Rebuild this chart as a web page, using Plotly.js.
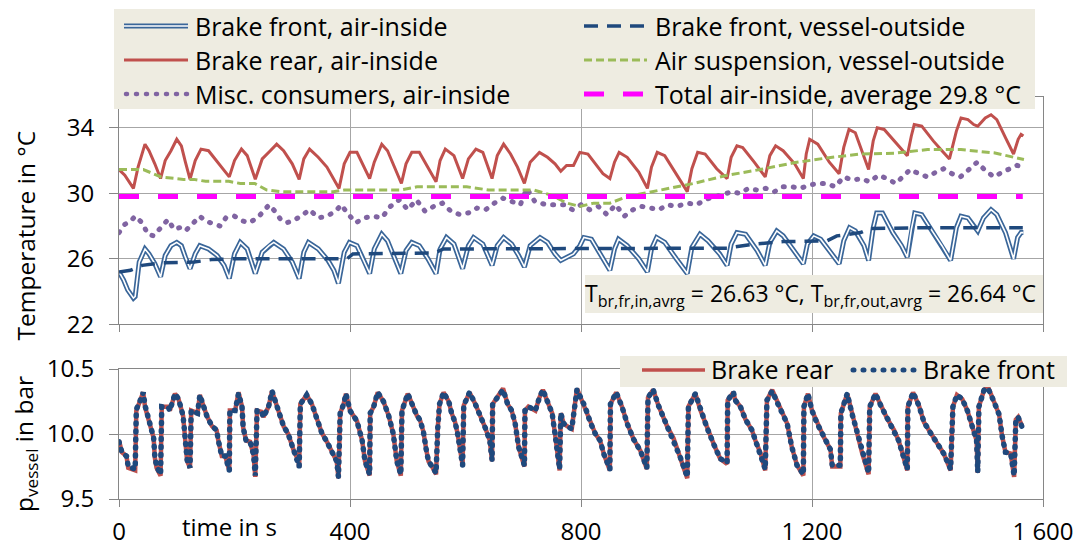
<!DOCTYPE html>
<html>
<head>
<meta charset="utf-8">
<script src="https://cdn.plot.ly/plotly-3.0.1.min.js"></script>
<style>
html,body{margin:0;padding:0;background:#fff;}
#chart{width:1078px;height:546px;}
</style>
</head>
<body>
<div id="chart"></div>
<script>
// ---------------- DATA ----------------
// x axis ticks
const xTickVals = [0, 400, 800, 1200, 1600];
const xTickText = ['0', '400', '800', '1 200', '1 600'];
const tempTickVals = [22, 26, 30, 34];
const presTickVals = [9.5, 10.0, 10.5];
const presTickText = ['9.5', '10.0', '10.5'];

// Brake rear, air-inside (°C)
const tR = [0,10,25,33,45,52,62,72, 80,90,100,108,115,123, 132,142,155,170,182,191, 200,212,222,236,
  248,262,273,285,300,312, 320,330,345,360,372,381, 390,400,412,424,434, 442,455,465,478,489,
  497,507,520,535,549, 556,565,580,595, 605,618,630,646, 655,666,678,690,702, 712,728,742,755,765,
  775,787,798,812,825,838,850, 858,866,880,900,915, 922,932,945,965,984, 992,1002,1015,1035,1053,
  1060,1070,1080,1100,1119, 1127,1137,1150,1170,1185, 1190,1196,1210,1230,1247, 1255,1264,1275,1290,1298,
  1306,1313,1325,1340,1355,1365, 1372,1377,1390,1410,1425,1438, 1450,1458,1470,1480,1487,
  1500,1510,1520,1535,1549, 1557,1562,1566];
const vR = [31.45,31.1,30.3,31.6,33.0,32.6,31.8,30.9, 32.0,32.6,33.3,32.9,31.9,30.85, 32.0,32.7,32.6,31.9,31.4,31.0, 32.0,32.7,32.3,30.85,
  32.1,32.6,33.0,32.6,31.8,30.85, 32.1,32.7,32.2,31.6,30.9,30.3, 31.8,32.5,32.5,31.6,30.9, 31.9,33.0,32.6,31.5,30.6,
  31.8,32.5,32.5,31.6,30.7, 32.0,32.7,32.3,30.9, 32.1,32.7,32.5,30.9, 32.3,33.0,32.4,31.6,30.6, 31.9,32.5,32.2,31.8,31.35,
  31.7,31.7,32.5,32.4,31.8,31.2,30.9, 31.9,32.5,32.2,31.3,30.3, 31.6,32.5,32.3,31.2,30.1, 31.5,32.5,32.4,31.5,30.9,
  32.2,32.9,32.8,31.9,31.0, 32.3,32.9,32.6,31.8,30.9, 32.4,33.3,33.0,31.9,31.2, 32.8,33.9,33.7,32.3,31.45,
  33.2,34.0,33.9,33.3,32.7,32.3, 33.5,34.2,34.1,33.2,32.6,32.1, 33.8,34.6,34.5,34.2,34.1,
  34.6,34.8,34.5,33.4,32.4, 33.3,33.6,33.5];

// Brake front, air-inside (°C)
const tBi = [0,8,15,25,28,35,45,52,62,72, 80,90,100,108,115,123, 132,140,155,170,182,191, 200,210,222,236,
  248,260,268,285,300,312, 320,328,345,362,372,380, 390,399,412,424,434, 442,455,465,478,488,
  497,507,520,535,549, 556,567,580,595, 605,614,630,646, 655,666,680,692,702, 712,729,742,755,765,
  775,787,798,805,818,835,850, 858,865,880,900,915, 922,931,945,965,984, 992,1006,1020,1040,1053,
  1060,1070,1085,1105,1119, 1127,1139,1150,1170,1185, 1192,1203,1215,1232,1247, 1255,1265,1275,1290,1298,
  1306,1312,1322,1340,1355,1365, 1372,1378,1390,1410,1425,1440, 1450,1458,1470,1480,1487,
  1497,1510,1520,1535,1549, 1556,1562,1566];
const vBi = [25.2,24.7,24.1,23.6,23.7,25.8,26.6,26.3,25.7,24.9, 26.2,26.8,27.0,26.8,26.1,25.4, 26.3,26.8,26.6,26.2,25.6,24.8, 26.3,27.0,26.6,25.1,
  26.4,26.8,27.0,26.6,25.8,24.8, 26.4,27.0,26.6,25.9,25.3,24.5, 26.4,27.0,26.8,25.9,25.1, 26.6,27.5,27.1,26.0,25.1,
  26.5,27.0,26.8,26.0,25.1, 26.6,27.3,26.9,25.4, 26.8,27.3,26.9,25.6, 26.8,27.3,26.9,26.2,25.5, 26.8,27.3,27.0,26.3,25.9,
  26.1,26.3,26.8,27.3,27.2,26.2,25.3, 26.6,27.2,26.8,26.0,25.2, 26.6,27.3,27.0,26.0,25.1, 26.7,27.5,27.1,26.3,25.6,
  26.9,27.6,27.5,26.5,25.6, 27.0,27.7,27.4,26.4,25.7, 26.9,27.4,27.2,26.4,25.7, 27.1,27.9,27.7,26.8,25.9,
  27.9,28.8,28.8,27.6,26.8,26.1, 27.8,28.8,28.7,27.6,26.8,25.9, 27.9,28.6,28.5,28.0,27.7,
  28.5,29.0,28.7,27.6,26.0, 27.3,27.6,27.6];

// Brake front, vessel-outside (°C)
const tBo = [0,20,40,75,130,160,200,395,405,545,562,800,1053,1100,1150,1226,1243,1284,1300,1400,1565];
const vBo = [25.2,25.3,25.6,25.75,25.8,25.95,26.0,26.0,26.3,26.35,26.6,26.65,26.65,26.9,27.05,27.1,27.4,27.6,27.85,27.9,27.9];

// Air suspension, vessel-outside (°C)
const tA = [0,42,73,112,130,150,190,210,235,256,279,371,390,487,516,602,640,718,747,776,798,
  822,850,880,909,937,995,1053,1110,1168,1226,1284,1342,1400,1458,1515,1567];
const vA = [31.45,31.45,31.0,30.85,30.85,30.73,30.73,30.6,30.6,30.2,30.1,30.1,30.2,30.2,30.4,30.4,30.2,30.2,29.9,29.4,29.2,
  29.4,29.4,29.8,30.0,30.2,30.6,31.1,31.45,31.86,32.16,32.4,32.45,32.67,32.67,32.47,32.06];

// Misc. consumers, air-inside (°C)
const tM = [0,10,20,28,40,50,60,75,85,95,105,115,130,140,150,160,175,185,200,215,225,240,250,260,270,280,290,300,
  315,330,345,360,375,385,395,410,425,440,455,470,485,500,515,530,545,560,575,590,605,620,635,650,665,680,695,706,
  720,740,755,770,785,800,815,830,845,860,875,890,905,920,935,950,965,985,1000,1015,1030,1045,1060,1075,1090,1105,
  1120,1135,1150,1165,1180,1195,1210,1225,1240,1255,1270,1285,1300,1315,1330,1345,1360,1370,1385,1400,1415,1428,
  1442,1457,1470,1486,1500,1515,1530,1545,1555,1565];
const vM = [27.6,28.1,28.3,28.6,28.2,27.5,27.4,28.0,28.4,27.8,27.9,27.7,28.2,28.6,28.3,28.2,28.0,28.5,28.6,28.3,28.2,28.5,28.9,29.3,28.9,28.4,28.2,28.3,
  28.6,29.0,28.5,28.6,28.9,29.3,28.8,28.2,28.5,28.6,28.5,29.2,29.6,29.0,29.6,28.9,29.2,29.4,28.9,28.7,28.8,29.1,29.0,29.4,29.7,29.5,29.3,30.3,
  29.5,29.3,29.3,29.3,29.0,29.3,29.0,29.2,28.7,29.3,28.6,29.0,29.2,29.1,29.0,29.3,29.2,29.4,29.3,29.6,29.8,29.9,30.1,30.0,30.3,30.2,
  30.3,30.1,30.4,30.4,30.3,30.5,30.6,30.6,30.4,31.0,30.8,30.9,30.7,31.1,30.9,30.6,31.1,31.45,31.2,31.0,31.3,31.5,
  31.2,31.0,31.4,31.9,31.4,31.0,31.3,31.5,31.7,31.6];

// Total air-inside, average 29.8 °C
const tTot = [0, 1565];
const vTot = [29.8, 29.8];

// Vessel pressure (bar)
const tP = [0,5,13,16,28,30,36,42,45,54, 60,62,65,72,74,86,88,97,103,111, 116,118,123,125,136,140,146,152,161,169,
  172,178,184,191,192,201,207,213,215,220, 227,233,236,239,247,250,259,265,276,285, 293,302,311,312,314,325,334,343,351,360,
  369,377,380,383,389,393,400,412,421,426, 434,435,441,448,458,467,475,481,488,490, 500,507,516,521,527,532,536,542,549,552,
  555,562,571,576,582,586,590,595,597,607, 617,626,634,642,646,647,657,665,673,680, 686,692,702,703,709,721,728,734,741,750,
  755,763,765,770,776,784,793,799,807,816, 825,833,840,850,851,861,871,880,891,903, 914,916,925,934,949,960,972,984,986,998,
  1007,1018,1030,1041,1053,1054,1064,1067,1076,1085, 1096,1102,1111,1119,1122,1131,1139,1148,1157,1165,
  1174,1185,1186,1193,1200,1209,1220,1232,1235,1249, 1250,1261,1269,1278,1287,1298,1300,1310,1319,1330,
  1342,1350,1356,1365,1366,1375,1385,1394,1405,1417, 1428,1440,1444,1451,1460,1469,1477,1485,1487,1489,
  1498,1505,1515,1524,1529,1535,1544,1550,1553,1557, 1564];
const pRear = [9.95,9.86,9.83,9.74,9.72,10.18,10.25,10.32,10.21,10.05, 9.97,9.82,9.74,9.68,10.21,10.21,10.18,10.31,10.27,10.14,
  9.88,9.79,9.74,10.18,10.16,10.30,10.22,10.14,10.06,10.03, 9.95,9.83,9.83,9.72,10.18,10.18,10.32,10.21,10.05,9.95,
  9.94,9.84,9.67,10.18,10.17,10.13,10.21,10.33,10.18,10.06, 10.00,9.88,9.79,9.74,10.23,10.30,10.23,10.10,10.01,9.94,
  9.86,9.79,9.66,10.16,10.23,10.31,10.18,10.10,9.95,9.79, 9.68,10.16,10.21,10.32,10.25,10.14,10.00,9.79,9.68,10.18,
  10.31,10.23,10.14,10.11,10.02,9.88,9.79,9.75,9.69,10.05, 10.23,10.32,10.25,10.16,10.09,10.01,9.87,9.76,10.22,10.32,
  10.23,10.14,10.05,9.95,9.79,10.23,10.30,10.35,10.23,10.18, 10.08,9.90,9.75,10.18,10.21,10.18,10.28,10.34,10.26,10.16,
  10.00,9.72,10.16,10.08,10.06,10.04,10.35,10.28,10.21,10.09, 10.00,9.95,9.84,9.72,10.23,10.32,10.21,10.08,9.96,9.87,
  9.73,10.28,10.34,10.22,10.06,9.97,9.82,9.66,10.21,10.31, 10.18,10.05,9.92,9.81,9.77,10.26,10.32,10.26,10.21,10.11,
  10.03,9.95,9.85,9.72,10.26,10.34,10.25,10.17,10.08,9.90, 9.76,9.68,10.21,10.31,10.18,10.08,9.98,9.88,9.75,9.75,
  10.16,10.31,10.16,10.01,9.85,9.69,10.21,10.31,10.22,10.12, 10.03,9.95,9.86,9.72,10.21,10.32,10.22,10.09,10.01,9.93,
  9.85,9.72,10.21,10.30,10.27,10.18,10.07,9.95,9.70,10.21, 10.34,10.36,10.25,10.15,9.99,9.86,9.85,9.67,10.11,10.13,
  10.06];
const pFront = [9.94,9.86,9.83,9.75,9.73,10.19,10.25,10.32,10.22,10.05, 9.97,9.83,9.75,9.69,10.21,10.20,10.18,10.31,10.27,10.14,
  9.88,9.80,9.74,10.18,10.16,10.30,10.22,10.14,10.06,10.03, 9.95,9.83,9.83,9.72,10.18,10.18,10.31,10.21,10.05,9.95,
  9.94,9.84,9.68,10.18,10.17,10.13,10.21,10.33,10.18,10.06, 10.00,9.88,9.79,9.75,10.23,10.30,10.23,10.10,10.01,9.94,
  9.86,9.79,9.67,10.16,10.23,10.31,10.18,10.10,9.95,9.79, 9.69,10.16,10.21,10.32,10.25,10.14,10.00,9.79,9.69,10.18,
  10.31,10.23,10.14,10.11,10.02,9.88,9.79,9.75,9.70,10.05, 10.23,10.32,10.25,10.16,10.09,10.01,9.87,9.76,10.22,10.32,
  10.23,10.14,10.05,9.95,9.80,10.23,10.30,10.34,10.23,10.18, 10.08,9.90,9.76,10.18,10.21,10.18,10.28,10.34,10.26,10.16,
  10.00,9.73,10.16,10.08,10.06,10.04,10.34,10.28,10.21,10.09, 10.00,9.95,9.84,9.73,10.23,10.32,10.21,10.08,9.96,9.87,
  9.74,10.28,10.34,10.22,10.06,9.97,9.82,9.67,10.21,10.31, 10.18,10.05,9.92,9.81,9.78,10.26,10.32,10.26,10.21,10.11,
  10.03,9.95,9.85,9.73,10.26,10.33,10.25,10.17,10.08,9.90, 9.76,9.69,10.21,10.31,10.18,10.08,9.98,9.88,9.76,9.76,
  10.16,10.31,10.16,10.01,9.85,9.70,10.21,10.31,10.22,10.12, 10.03,9.95,9.86,9.73,10.21,10.32,10.22,10.09,10.01,9.93,
  9.85,9.73,10.21,10.30,10.27,10.18,10.07,9.95,9.71,10.21, 10.34,10.35,10.25,10.15,9.99,9.86,9.85,9.68,10.11,10.13,
  10.05];

// Texts
const legendTop = [
  'Brake front, air-inside', 'Brake rear, air-inside', 'Misc. consumers, air-inside',
  'Brake front, vessel-outside', 'Air suspension, vessel-outside', 'Total air-inside, average 29.8 °C'
];
const legendBottom = ['Brake rear', 'Brake front'];
const avgNote = 'T<sub>br,fr,in,avrg</sub> = 26.63 °C, T<sub>br,fr,out,avrg</sub> = 26.64 °C';

// ---------------- STYLE / LAYOUT ----------------
const W = 1078, H = 546, ML = 119, MR = 35, MT = 97, MB = 47;
const PW = W - ML - MR, PH = H - MT - MB;
const px = x => (x - ML) / PW;
const py = y => (H - MB - y) / PH;

const C = {
  red: '#C0504D', blueOuter: '#3A6699', navy: '#1F497D', green: '#9BBB59',
  purple: '#8064A2', magenta: '#FF00FF', grid: '#A6A6A6', axis: '#868686', beige: '#EEECE1'
};
const FONT = 'Open Sans, Noto Sans, sans-serif';
const DOT = '1px,9px';

const traces = [
  {x: tBi, y: vBi, xaxis: 'x', yaxis: 'y', mode: 'lines', line: {color: C.blueOuter, width: 5}, hoverinfo: 'skip'},
  {x: tBi, y: vBi, xaxis: 'x', yaxis: 'y', mode: 'lines', line: {color: '#FFFFFF', width: 1.6}, hoverinfo: 'skip'},
  {x: tR, y: vR, xaxis: 'x', yaxis: 'y', mode: 'lines', line: {color: C.red, width: 3}},
  {x: tM, y: vM, xaxis: 'x', yaxis: 'y', mode: 'lines', line: {color: C.purple, width: 5, dash: DOT}},
  {x: tBo, y: vBo, xaxis: 'x', yaxis: 'y', mode: 'lines', line: {color: C.navy, width: 3.5, dash: '14px,9px'}},
  {x: tA, y: vA, xaxis: 'x', yaxis: 'y', mode: 'lines', line: {color: C.green, width: 3, dash: '8px,4px'}},
  {x: tTot, y: vTot, xaxis: 'x', yaxis: 'y', mode: 'lines', line: {color: C.magenta, width: 5, dash: '20px,19px'}},
  {x: tP, y: pRear, xaxis: 'x2', yaxis: 'y2', mode: 'lines', line: {color: C.red, width: 4.5}},
  {x: tP, y: pFront, xaxis: 'x2', yaxis: 'y2', mode: 'lines', line: {color: C.navy, width: 5.5, dash: '1px,7px'}}
];

const axisCommon = {
  showgrid: true, gridcolor: C.grid, gridwidth: 1, showline: true, linecolor: C.axis, linewidth: 1,
  mirror: true, zeroline: false, ticks: 'outside', tickcolor: C.axis, tickwidth: 1,
  tickfont: {family: FONT, size: 24, color: '#000'}, fixedrange: true
};

const topDomain = [py(324.3), 1];
const botDomain = [0, py(369)];
const topMax = 22 + (324.3 - MT) / 16.375;

function hline(x0, x1, y, color, width, dash) {
  return {type: 'line', xref: 'paper', yref: 'paper', x0: px(x0), x1: px(x1), y0: py(y), y1: py(y),
    line: {color: color, width: width, dash: dash || 'solid'}, layer: 'above'};
}
function rect(x0, x1, y0, y1) {
  return {type: 'rect', xref: 'paper', yref: 'paper', x0: px(x0), x1: px(x1), y0: py(y1), y1: py(y0),
    fillcolor: C.beige, line: {width: 0}, layer: 'above'};
}
const rowY = [26, 60, 94];
const shapes = [
  rect(114, 1035, 9, 109),
  rect(620, 1067, 356, 387),
  rect(585, 1043, 275, 313),
  hline(124, 188, rowY[0], C.blueOuter, 5),
  hline(124, 188, rowY[0], '#FFFFFF', 1.6),
  hline(124, 188, rowY[1], C.red, 3),
  hline(126, 188, rowY[2], C.purple, 4.5, DOT),
  hline(584, 647, rowY[0], C.navy, 3.5, '14px,9px'),
  hline(584, 647, rowY[1], C.green, 3, '8px,4px'),
  hline(584, 647, rowY[2], C.magenta, 5, '20px,19px'),
  hline(642, 705, 370, C.red, 3.5),
  hline(853, 915, 370, C.navy, 5, DOT)
];

function label(text, x, y, size, opts) {
  return Object.assign({text: text, xref: 'paper', yref: 'paper', x: px(x), y: py(y), showarrow: false,
    xanchor: 'left', yanchor: 'middle', font: {family: FONT, size: size, color: '#000'}}, opts || {});
}
const annotations = [
  label(legendTop[0], 193, rowY[0], 25),
  label(legendTop[1], 193, rowY[1], 25),
  label(legendTop[2], 193, rowY[2], 25),
  label(legendTop[3], 653, rowY[0], 25),
  label(legendTop[4], 653, rowY[1], 25),
  label(legendTop[5], 653, rowY[2], 25),
  label(legendBottom[0], 709, 369, 25),
  label(legendBottom[1], 921, 369, 25),
  label(avgNote, 810.5, 294, 23, {xanchor: 'center'}),
  label('time in s', 229.5, 545, 24, {xanchor: 'center', yanchor: 'bottom'}),
  label('Temperature in °C', 25, 235.5, 24.5, {xanchor: 'center', textangle: -90}),
  label('p<sub>vessel</sub> in bar', 25, 444, 24.5, {xanchor: 'center', textangle: -90})
];

const layout = {
  width: W, height: H, showlegend: false,
  margin: {l: ML, r: MR, t: MT, b: MB, pad: 0},
  paper_bgcolor: '#FFFFFF', plot_bgcolor: '#FFFFFF',
  font: {family: FONT, size: 24, color: '#000'},
  xaxis: Object.assign({}, axisCommon, {domain: [0, 1], anchor: 'y', range: [0, 1600], tickmode: 'array',
    tickvals: xTickVals, showticklabels: false, ticklen: 7}),
  yaxis: Object.assign({}, axisCommon, {domain: topDomain, anchor: 'x', range: [22, topMax], tickmode: 'array',
    tickvals: tempTickVals, ticklen: 9, ticklabelstandoff: 10}),
  xaxis2: Object.assign({}, axisCommon, {domain: [0, 1], anchor: 'y2', range: [0, 1600], tickmode: 'array',
    tickvals: xTickVals, ticktext: xTickText, ticklen: 7, ticklabelstandoff: 4}),
  yaxis2: Object.assign({}, axisCommon, {domain: botDomain, anchor: 'x2', range: [9.5, 10.5], tickmode: 'array',
    tickvals: presTickVals, ticktext: presTickText, ticklen: 9, ticklabelstandoff: 10}),
  shapes: shapes,
  annotations: annotations
};

Plotly.newPlot('chart', traces, layout, {staticPlot: true, displayModeBar: false}).then(function () {
  document.querySelectorAll('#chart path').forEach(function (p) {
    var d = p.style.strokeDasharray || p.getAttribute('stroke-dasharray') || '';
    if (d.indexOf('1px') === 0) { p.style.strokeLinecap = 'round'; }
  });
});
</script>
</body>
</html>
